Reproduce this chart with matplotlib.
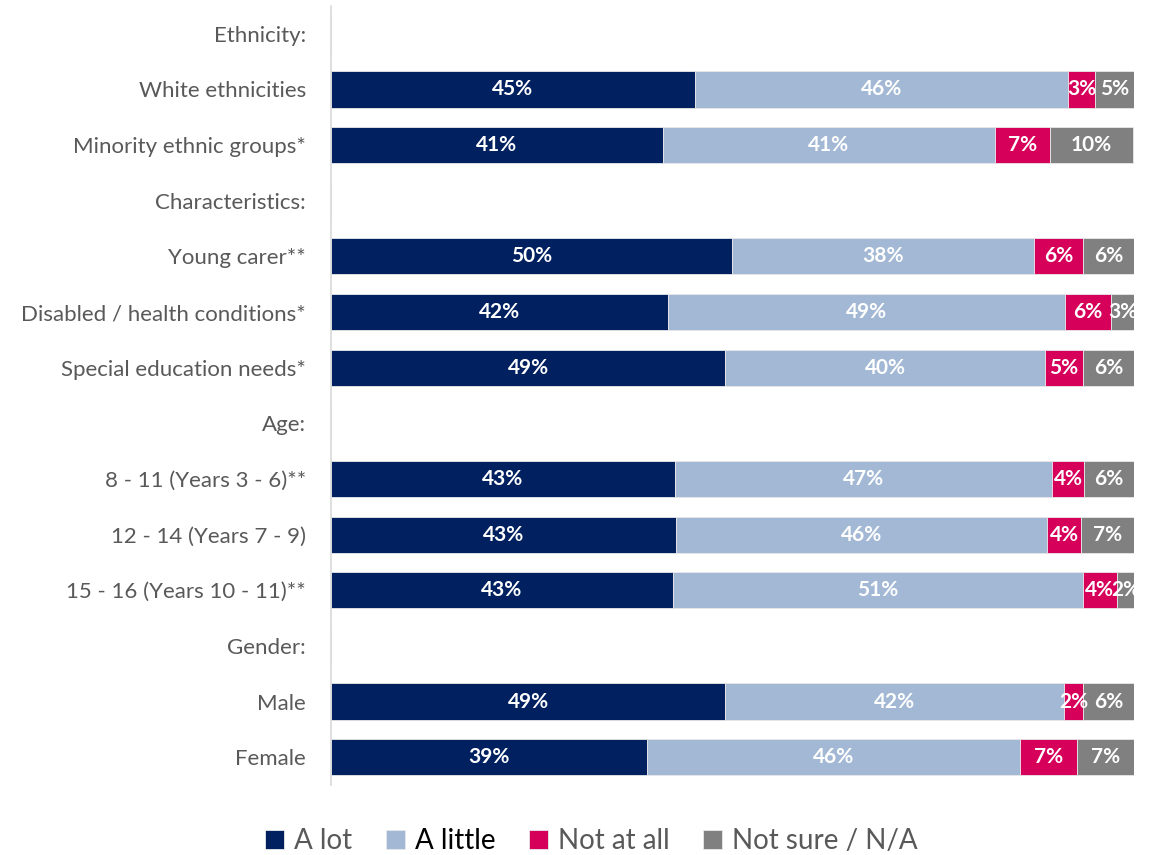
import numpy as np
import matplotlib.pyplot as plt

# categorias (de arriba a abajo); las cabeceras no tienen barras
categorias = ["Ethnicity:", "White ethnicities", "Minority ethnic groups*",
              "Characteristics:", "Young carer**", "Disabled / health conditions*",
              "Special education needs*", "Age:", "8 - 11 (Years 3 - 6)**",
              "12 - 14 (Years 7 - 9)", "15 - 16 (Years 10 - 11)**", "Gender:",
              "Male", "Female"]

# valores en %, None para las cabeceras
a_lot = [None, 45.3, 41.3, None, 49.9, 42.0, 49.1, None, 42.8, 43.0, 42.6, None, 49.1, 39.4]
a_little = [None, 46.5, 41.4, None, 37.6, 49.4, 39.8, None, 47.0, 46.2, 51.0, None, 42.2, 46.4]
not_at_all = [None, 3.4, 6.8, None, 6.2, 5.7, 4.8, None, 4.0, 4.2, 4.3, None, 2.4, 7.1]
not_sure = [None, 4.9, 10.4, None, 6.3, 3.0, 6.3, None, 6.2, 6.6, 2.1, None, 6.4, 7.1]

series = ["A lot", "A little", "Not at all", "Not sure / N/A"]
colores = ["#002060", "#A2B8D4", "#D6005A", "#808080"]

plt.rcParams['font.family'] = ['Lato', 'DejaVu Sans']

fig = plt.figure(figsize=(11.55, 8.55), dpi=100)
ax = fig.add_axes([331/1155, 1-785/855, 803/1155, 779/855])

y = np.arange(len(categorias))
datos = [a_lot, a_little, not_at_all, not_sure]
izquierda = np.zeros(len(categorias))
handles = []
for nombre, col, vals in zip(series, colores, datos):
    v = np.array([0 if x is None else x for x in vals], dtype=float)
    h = ax.barh(y, v, left=izquierda, height=0.65, color=col,
                edgecolor="#E8E8E8", linewidth=0.6, label=nombre)
    handles.append(h)
    for i, x in enumerate(vals):
        if x is None:
            continue
        ax.text(izquierda[i] + x/2, y[i], f"{round(x):.0f}%", ha="center", va="center",
                color="white", fontsize=15, fontweight="bold")
    izquierda += v

ax.set_xlim(0, 100)
ax.set_ylim(len(categorias) - 0.5, -0.5)
ax.set_yticks(y)
ax.set_yticklabels(categorias, fontsize=16, color="#595959")
ax.tick_params(axis="y", length=0, pad=18)
ax.set_xticks([])
for s in ["top", "right", "bottom"]:
    ax.spines[s].set_visible(False)
ax.spines["left"].set_color("#D9D9D9")
ax.spines["left"].set_linewidth(1.2)

leg = fig.legend(handles=handles, labels=series, loc="center", bbox_to_anchor=(0.512, 1-841/855),
                 ncol=4, frameon=False, fontsize=20, handlelength=0.7, handleheight=0.7,
                 handletextpad=0.35, columnspacing=1.2)
for t, c in zip(leg.get_texts(), ["#595959", "#000000", "#595959", "#595959"]):
    t.set_color(c)

fig.savefig("out.png", dpi=100)
